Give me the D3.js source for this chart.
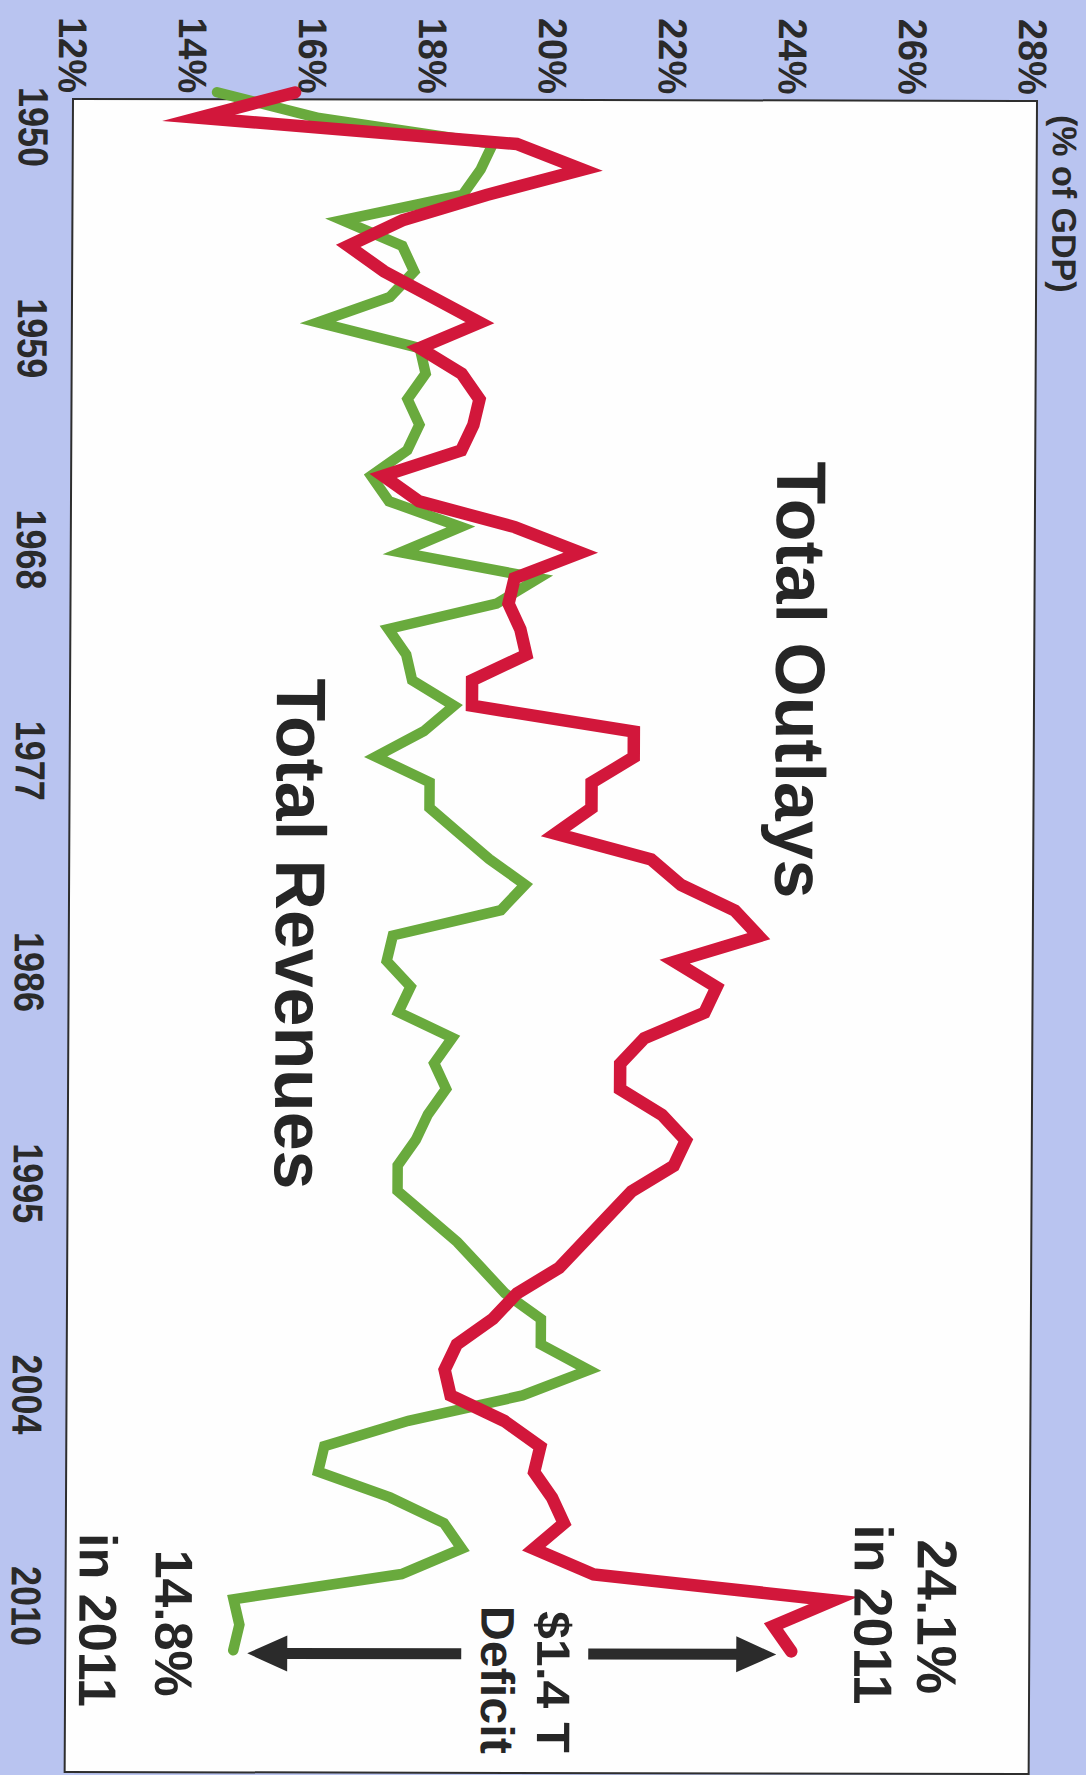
<!DOCTYPE html>
<meta charset="utf-8">
<style type="text/css">

body {
  margin: 0;
  background: #b9c4f0;
}

svg {
  display: block;
  font-family: "Liberation Sans", Arial, Helvetica, sans-serif;
  font-weight: bold;
}

.series {
  fill: none;
  stroke-linejoin: miter;
  stroke-miterlimit: 10;
  stroke-linecap: round;
}

</style>
<body>

<div id="chart"></div>

<script src="https://d3js.org/d3.v7.min.js"></script>
<script>
// Federal outlays and revenues, % of GDP, fiscal years 1950-2011
var years = d3.range(1950, 2012);

var outlays = [
  15.7, 14.1, 19.4, 20.5, 18.9, 17.5, 16.6, 17.2, 18.0, 18.8,
  17.8, 18.5, 18.8, 18.7, 18.5, 17.2, 17.8, 19.4, 20.5, 19.4,
  19.3, 19.5, 19.6, 18.7, 18.7, 21.4, 21.4, 20.7, 20.7, 20.1,
  21.7, 22.2, 23.1, 23.5, 22.1, 22.8, 22.6, 21.6, 21.2, 21.2,
  21.9, 22.3, 22.1, 21.4, 21.0, 20.6, 20.2, 19.5, 19.1, 18.5,
  18.3, 18.4, 19.3, 19.9, 19.8, 20.1, 20.3, 19.8, 20.8, 24.8,
  23.8, 24.1
];

var revenues = [
  14.4, 16.1, 19.0, 18.8, 18.5, 16.5, 17.5, 17.7, 17.3, 16.1,
  17.8, 17.9, 17.6, 17.8, 17.6, 17.0, 17.3, 18.5, 17.5, 19.8,
  19.1, 17.3, 17.6, 17.7, 18.4, 17.9, 17.1, 18.0, 18.0, 18.5,
  19.0, 19.6, 19.2, 17.4, 17.3, 17.7, 17.5, 18.4, 18.1, 18.3,
  18.0, 17.8, 17.5, 17.5, 18.0, 18.5, 18.9, 19.3, 19.9, 19.9,
  20.7, 19.6, 17.7, 16.3, 16.2, 17.4, 18.3, 18.6, 17.6, 14.8,
  14.9, 14.8
];

var yearLabels = ['1950', '1959', '1968', '1977', '1986', '1995', '2004', '2010'];
var pctTicks = [12, 14, 16, 18, 20, 22, 24, 26, 28];

var pageW = 1086,
    pageH = 1775;

var svg = d3.select('#chart').append('svg')
    .attr('width', pageW)
    .attr('height', pageH);

svg.append('rect')
    .attr('width', pageW)
    .attr('height', pageH)
    .attr('fill', '#b9c4f0');

// the scanned page sits a little askew
var scan = svg.append('g')
    .attr('transform', 'matrix(1,0.002,-0.005,1,0.5,-0.15)');

// chart is drawn upright (years across, % up) then turned a quarter clockwise
var g = scan.append('g')
    .attr('transform', 'translate(' + pageW + ',0) rotate(90)');

var x = d3.scaleLinear().domain([1950, 2011]).range([92, 1650]);
var y = d3.scaleLinear().domain([12, 28]).range([1013, 53]);
var xLab = d3.scalePoint().domain(yearLabels).range([127, 1606]);

// plot frame
g.append('rect')
    .attr('x', 99)
    .attr('y', 49)
    .attr('width', 1673)
    .attr('height', 964)
    .attr('fill', '#fefefe')
    .attr('stroke', '#2e2e2e')
    .attr('stroke-width', 2);

// % axis
g.selectAll('.pct')
    .data(pctTicks)
  .enter()
    .append('text')
      .attr('class', 'pct')
      .attr('x', 93)
      .attr('y', function(d) { return y(d); })
      .attr('dy', '0.36em')
      .attr('text-anchor', 'end')
      .attr('font-size', 40)
      .attr('textLength', 76)
      .attr('lengthAdjust', 'spacingAndGlyphs')
      .attr('fill', '#2a2a2a')
      .text(function(d) { return d + '%'; });

g.append('text')
    .attr('x', 113)
    .attr('y', 33)
    .attr('font-size', 34)
    .attr('fill', '#2a2a2a')
    .text('(% of GDP)');

// year axis
g.selectAll('.yr')
    .data(yearLabels)
  .enter()
    .append('text')
      .attr('class', 'yr')
      .attr('x', function(d) { return xLab(d); })
      .attr('y', 1067)
      .attr('text-anchor', 'middle')
      .attr('font-size', 42)
      .attr('textLength', 80)
      .attr('lengthAdjust', 'spacingAndGlyphs')
      .attr('fill', '#2a2a2a')
      .text(function(d) { return d; });

// series
var line = d3.line()
    .x(function(d, i) { return x(years[i]); })
    .y(function(d) { return y(d); });

g.append('path')
    .datum(revenues)
    .attr('class', 'series')
    .attr('stroke', '#69aa3d')
    .attr('stroke-width', 10.5)
    .attr('d', line);

g.append('path')
    .datum(outlays)
    .attr('class', 'series')
    .attr('stroke', '#d2173b')
    .attr('stroke-width', 12.5)
    .attr('d', line);

// labels
var labels = [
  {text: 'Total Outlays', x: 460, y: 307, size: 70, len: 437, anchor: 'start'},
  {text: 'Total Revenues', x: 678, y: 806, size: 70, len: 511, anchor: 'start'},
  {text: '24.1%', x: 1615, y: 161, size: 56, len: 155, anchor: 'middle'},
  {text: 'in 2011', x: 1613, y: 224, size: 54, len: 180, anchor: 'middle'},
  {text: '$1.4 T', x: 1681, y: 541, size: 47, len: 142, anchor: 'middle'},
  {text: 'Deficit', x: 1679, y: 597, size: 47, len: 148, anchor: 'middle'},
  {text: '14.8%', x: 1623, y: 923, size: 53, len: 147, anchor: 'middle'},
  {text: 'in 2011', x: 1620, y: 999, size: 53, len: 174, anchor: 'middle'}
];

g.selectAll('.lbl')
    .data(labels)
  .enter()
    .append('text')
      .attr('class', 'lbl')
      .attr('x', function(d) { return d.x; })
      .attr('y', function(d) { return d.y; })
      .attr('font-size', function(d) { return d.size; })
      .attr('text-anchor', function(d) { return d.anchor; })
      .attr('textLength', function(d) { return d.len; })
      .attr('lengthAdjust', 'spacingAndGlyphs')
      .attr('fill', '#262626')
      .text(function(d) { return d.text; });

// deficit arrows, pointing at the last values
var last = years.length - 1;
var ax = x(years[last]) + 3;

function arrow(y0, y1) {
  var dir = y1 > y0 ? 1 : -1,
      hb = y1 - dir * 40;
  return [[ax - 5.5, y0], [ax - 5.5, hb], [ax - 18, hb], [ax, y1],
          [ax + 18, hb], [ax + 5.5, hb], [ax + 5.5, y0]];
}

var arrows = [
  arrow(490, y(outlays[last]) + 15),
  arrow(617, y(revenues[last]) - 14)
];

g.selectAll('.arrow')
    .data(arrows)
  .enter()
    .append('path')
      .attr('class', 'arrow')
      .attr('fill', '#2b2b2b')
      .attr('d', function(d) { return 'M' + d.join('L') + 'Z'; });
</script>
